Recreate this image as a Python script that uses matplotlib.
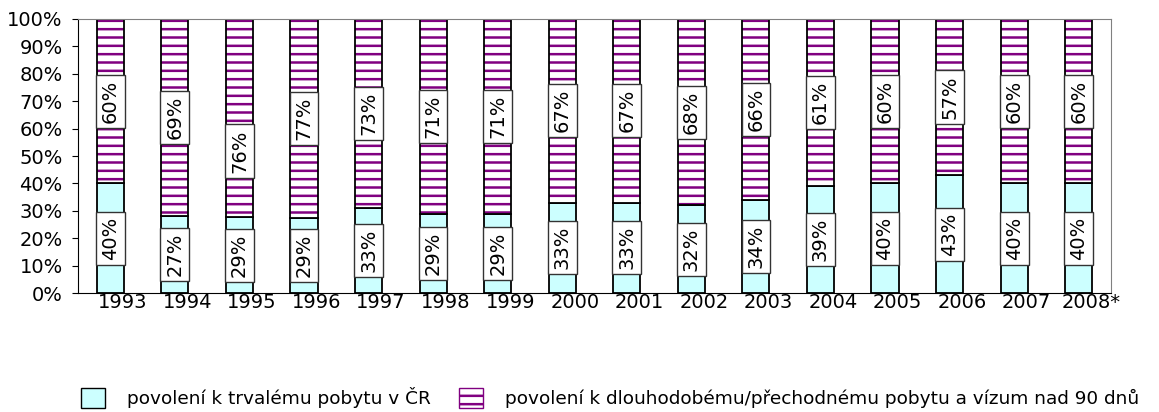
import matplotlib.pyplot as plt
import matplotlib.patches as mpatches
from matplotlib.transforms import ScaledTranslation

plt.rcParams['font.family'] = ['DejaVu Sans']
plt.rcParams['hatch.linewidth'] = 1.8

years = ['1993', '1994', '1995', '1996', '1997', '1998', '1999', '2000',
         '2001', '2002', '2003', '2004', '2005', '2006', '2007', '2008*']
trvaly = [40, 27, 29, 29, 33, 29, 29, 33, 33, 32, 34, 39, 40, 43, 40, 40]
dlouhodoby = [60, 69, 76, 77, 73, 71, 71, 67, 67, 68, 66, 61, 60, 57, 60, 60]

label_trvaly = 'povolení k trvalému pobytu v ČR'
label_dlouho = 'povolení k dlouhodobému/přechodnému pobytu a vízum nad 90 dnů'

# the 1995 upper label sits lower in the original
label_shift = {'1995': -12}

cyan = '#ccffff'
purple = '#800080'
fs = 14

fig = plt.figure(figsize=(11.59, 4.12), dpi=100)
ax = fig.add_axes([0.0673, 0.2888, 0.8913, 0.6651])

x = list(range(len(years)))
tot = [a + b for a, b in zip(trvaly, dlouhodoby)]
low = [100 * a / t for a, t in zip(trvaly, tot)]
high = [100 * b / t for b, t in zip(dlouhodoby, tot)]
w = 0.42

ax.bar(x, low, w, color=cyan, edgecolor='black', linewidth=1.3)
ax.bar(x, high, w, bottom=low, color='white', edgecolor=purple,
       hatch='--', linewidth=0)
ax.bar(x, high, w, bottom=low, fill=False, edgecolor='black', linewidth=1.3)

box = dict(boxstyle='square,pad=0.25', facecolor='white', edgecolor='#333333', linewidth=1)
for i in x:
    ax.text(i, low[i] / 2, f'{trvaly[i]}%', rotation=90, ha='center', va='center',
            fontsize=fs, bbox=box, zorder=5)
    ypos = low[i] + high[i] / 2 + label_shift.get(years[i], 0)
    ax.text(i, ypos, f'{dlouhodoby[i]}%', rotation=90, ha='center',
            va='center', fontsize=fs, bbox=box, zorder=5)

ax.set_xlim(-0.5, len(years) - 0.5)
ax.set_ylim(0, 100)
ax.set_yticks(range(0, 101, 10))
ax.set_yticklabels([f'{v}%' for v in range(0, 101, 10)], fontsize=fs)
ax.set_xticks(x)
ax.set_xticklabels(years, fontsize=fs)
ax.tick_params(axis='y', length=4, pad=7, direction='out')
ax.tick_params(axis='x', length=0, pad=0)
off = ScaledTranslation(12.5 / 100, 0, fig.dpi_scale_trans)
for lab in ax.get_xticklabels():
    lab.set_transform(lab.get_transform() + off)

for s in ['top', 'right']:
    ax.spines[s].set_color('#808080')
for s in ['left', 'bottom']:
    ax.spines[s].set_color('black')

h1 = mpatches.Patch(facecolor=cyan, edgecolor='black', linewidth=1)
h2 = mpatches.Patch(facecolor='white', edgecolor=purple, hatch='--', linewidth=1)
fig.legend([h1, h2], [label_trvaly, label_dlouho], loc='center left',
           bbox_to_anchor=(0.0699, 0.035), ncol=2, frameon=False, fontsize=13.3,
           borderpad=0, borderaxespad=0, handlelength=1.3, handleheight=1.3,
           handletextpad=1.2, columnspacing=1.5)

fig.savefig('out.png', dpi=100)
